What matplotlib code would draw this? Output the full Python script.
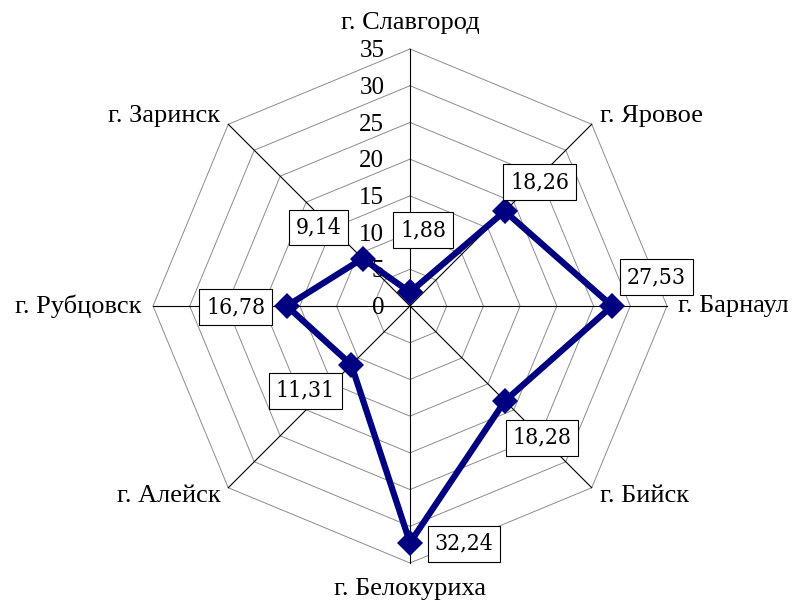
import matplotlib
matplotlib.use('Agg')
import matplotlib.pyplot as plt
import numpy as np

# data, clockwise from the top
cities = ['г. Славгород', 'г. Яровое', 'г. Барнаул', 'г. Бийск',
          'г. Белокуриха', 'г. Алейск', 'г. Рубцовск', 'г. Заринск']
values = [1.88, 18.26, 27.53, 18.28, 32.24, 11.31, 16.78, 9.14]
value_labels = ['1,88', '18,26', '27,53', '18,28', '32,24', '11,31', '16,78', '9,14']
ticks = [0, 5, 10, 15, 20, 25, 30, 35]

# where the value boxes sit relative to their points (pixels)
label_offsets = [(13, 62), (35, 29), (44, 29), (37, -37),
                 (54, -1), (-46, -26), (-51, -1), (-44, 31)]

n = len(cities)
ang = np.pi / 2 - np.arange(n) * 2 * np.pi / n
cx, cy = np.cos(ang), np.sin(ang)

serif = 'Liberation Serif'
fig = plt.figure(figsize=(7.97, 6.03), dpi=100)
ax = fig.add_axes([0, 0, 1, 1])
s = 257 / 35  # pixels per unit
ax.set_xlim(-410 / s, (797 - 410) / s)
ax.set_ylim(-(603 - 306) / s, 306 / s)
ax.axis('off')

# octagon rings
for t in ticks[1:]:
    ax.plot(np.append(cx, cx[0]) * t, np.append(cy, cy[0]) * t,
            color='#8c8c8c', lw=0.7, zorder=1)
# spokes
for i in range(n):
    ax.plot([0, cx[i] * ticks[-1]], [0, cy[i] * ticks[-1]], color='black', lw=0.8, zorder=2)

# radial tick labels
for t in ticks:
    ax.text(-3.5, t - 0.3, str(t), ha='right', va='center', fontsize=18, family=serif, zorder=3)

# category labels
r_lab = 36.5
for i in range(n):
    x, y = cx[i] * r_lab, cy[i] * r_lab
    if abs(cx[i]) < 0.01:
        ha = 'center'
        y = 38.6 * np.sign(cy[i])
    else:
        ha = 'left' if cx[i] > 0 else 'right'
    ax.text(x, y, cities[i], ha=ha, va='center', fontsize=19, family=serif)

# data series
vx = np.append(cx * values, cx[0] * values[0])
vy = np.append(cy * values, cy[0] * values[0])
ax.plot(vx, vy, color='#000080', lw=4.5, marker='D', markersize=13,
        markeredgewidth=0, solid_joinstyle='miter', zorder=4)

for i in range(n):
    ax.annotate(value_labels[i], (cx[i] * values[i], cy[i] * values[i]),
                xytext=label_offsets[i], textcoords='offset pixels',
                ha='center', va='center', fontsize=16.5,
                family='DejaVu Serif', fontstretch='condensed',
                bbox=dict(boxstyle='square,pad=0.3', fc='white', ec='black', lw=0.8),
                zorder=5)

fig.savefig('out.png', dpi=100)
